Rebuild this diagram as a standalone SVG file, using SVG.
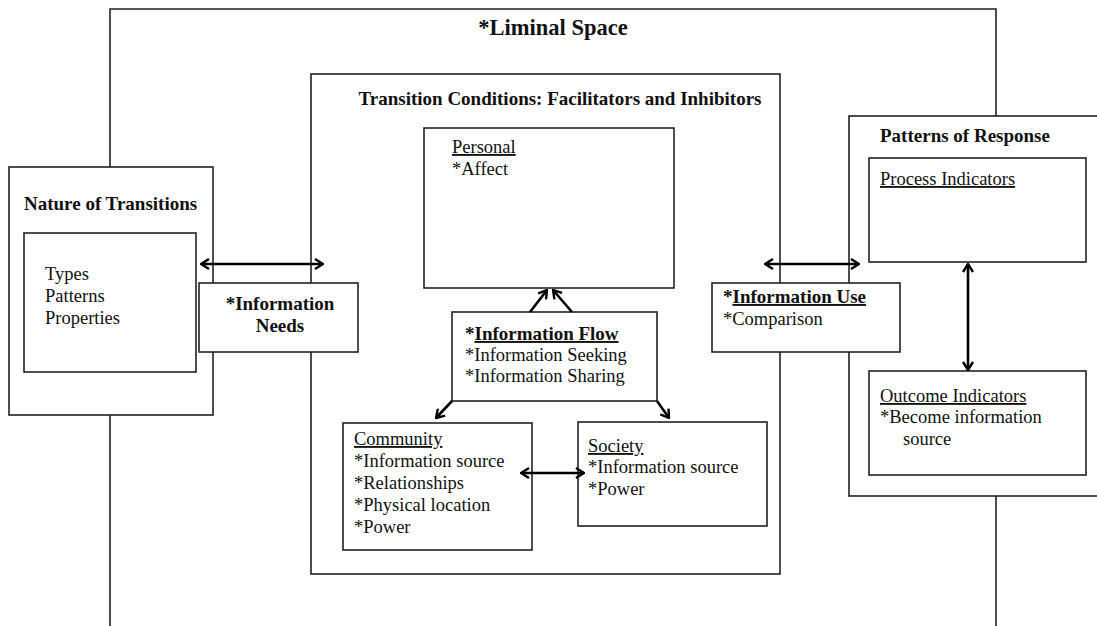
<svg xmlns="http://www.w3.org/2000/svg" width="1097" height="626" viewBox="0 0 1097 626">
<style>
text{font-family:"Liberation Serif","Times New Roman",serif;font-size:18.5px;fill:#111}
.b{font-weight:bold;font-size:19px}
.t{font-weight:bold;font-size:22.5px}
.u{text-decoration:underline}
.box{fill:#fff;stroke:#222;stroke-width:1.6}
.frame{fill:none;stroke:#222;stroke-width:1.6}
.con line{stroke:#000;stroke-width:2.6;fill:none}
</style>
<defs>
<marker id="ah" viewBox="0 0 10 12" refX="9" refY="6" markerWidth="10" markerHeight="12" markerUnits="userSpaceOnUse" orient="auto-start-reverse">
<path d="M1,1 L9,6 L1,11" fill="none" stroke="#000" stroke-width="2.4"/>
</marker>
</defs>
<rect width="1097" height="626" fill="#fff"/>
<g id="liminal">
<path class="frame" d="M110,626 V9 H996 V626"/>
<text class="t" x="553" y="35" text-anchor="middle">*Liminal Space</text>
</g>
<g id="transition">
<rect class="box" x="311" y="74" width="469" height="500"/>
<text class="b" x="560" y="105" text-anchor="middle">Transition Conditions: Facilitators and Inhibitors</text>
</g>
<g id="personal">
<rect class="box" x="424" y="128" width="250" height="160"/>
<text x="452" y="153"><tspan class="u">Personal</tspan></text>
<text x="452" y="175">*Affect</text>
</g>
<g id="nature">
<rect class="box" x="9" y="167" width="204" height="248"/>
<text class="b" x="24" y="210">Nature of Transitions</text>
</g>
<g id="types">
<rect class="box" x="24" y="233" width="172" height="139"/>
<text x="45" y="280">Types</text>
<text x="45" y="302">Patterns</text>
<text x="45" y="324">Properties</text>
</g>
<g id="needs">
<rect class="box" x="199" y="283" width="159" height="69"/>
<text class="b" x="280" y="310" text-anchor="middle">*Information</text>
<text class="b" x="280" y="332" text-anchor="middle">Needs</text>
</g>
<g id="flow">
<rect class="box" x="452" y="312" width="205" height="89"/>
<text class="b" x="465" y="340">*<tspan class="u">Information Flow</tspan></text>
<text x="465" y="361">*Information Seeking</text>
<text x="465" y="382">*Information Sharing</text>
</g>
<g id="community">
<rect class="box" x="343" y="423" width="189" height="127"/>
<text x="354" y="445"><tspan class="u">Community</tspan></text>
<text x="354" y="467">*Information source</text>
<text x="354" y="489">*Relationships</text>
<text x="354" y="511">*Physical location</text>
<text x="354" y="533">*Power</text>
</g>
<g id="society">
<rect class="box" x="578" y="422" width="189" height="104"/>
<text x="588" y="452"><tspan class="u">Society</tspan></text>
<text x="588" y="473">*Information source</text>
<text x="588" y="495">*Power</text>
</g>
<g id="patterns">
<rect class="box" x="849" y="116" width="260" height="380"/>
<text class="b" x="880" y="142">Patterns of Response</text>
</g>
<g id="process">
<rect class="box" x="869" y="158" width="217" height="104"/>
<text x="880" y="185"><tspan class="u">Process Indicators</tspan></text>
</g>
<g id="outcome">
<rect class="box" x="869" y="371" width="217" height="104"/>
<text x="880" y="402"><tspan class="u">Outcome Indicators</tspan></text>
<text x="880" y="423">*Become information</text>
<text x="903" y="445">source</text>
</g>
<g id="use">
<rect class="box" x="712" y="283" width="188" height="69"/>
<text class="b" x="723" y="303">*<tspan class="u">Information Use</tspan></text>
<text x="723" y="325">*Comparison</text>
</g>
<g id="connectors" class="con">
<line x1="201" y1="264" x2="323" y2="264" marker-start="url(#ah)" marker-end="url(#ah)"/>
<line x1="765" y1="264" x2="859" y2="264" marker-start="url(#ah)" marker-end="url(#ah)"/>
<line x1="968" y1="264" x2="968" y2="370" marker-start="url(#ah)" marker-end="url(#ah)"/>
<line x1="530" y1="312" x2="547" y2="290" marker-end="url(#ah)"/>
<line x1="572" y1="312" x2="553" y2="290" marker-end="url(#ah)"/>
<line x1="452" y1="401" x2="436" y2="418" marker-end="url(#ah)"/>
<line x1="657" y1="401" x2="669" y2="418" marker-end="url(#ah)"/>
<line x1="521" y1="473" x2="584" y2="473" marker-start="url(#ah)" marker-end="url(#ah)"/>
</g>
</svg>
